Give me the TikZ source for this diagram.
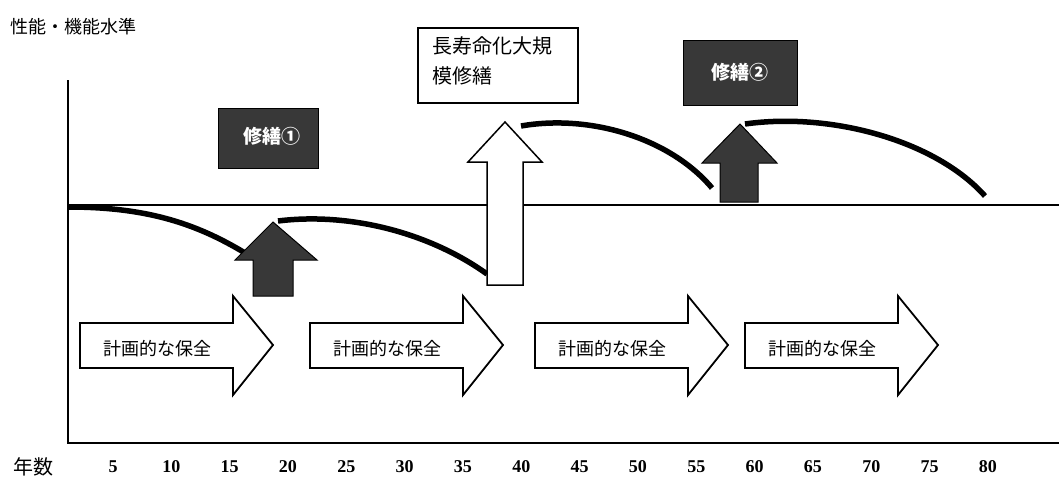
\documentclass[tikz,border=0pt]{standalone}
\usepackage{fontspec}
\setmainfont{Noto Sans CJK JP}
\newfontfamily\numfont{Liberation Serif}
\begin{document}
\begin{tikzpicture}[x=1pt,y=-1pt,
  axisline/.style={line width=1.6pt},
  arc/.style={line width=5.5pt},
  darkfill/.style={fill=black!78,draw=black,line width=1pt},
  whitearrow/.style={fill=white,draw=black,line width=1.5pt},
  blockarrow/.style={fill=white,draw=black,line width=1.8pt,line join=miter},
  lbl/.style={inner sep=0pt,font=\fontsize{18}{20}\selectfont},
  num/.style={inner sep=0pt,font=\numfont\fontsize{18}{20}\selectfont\bfseries},
  darklbl/.style={inner sep=0pt,text=white,font=\fontsize{19}{21}\selectfont\bfseries}]
\useasboundingbox (0,0) rectangle (1059,477);
% axes
\draw[axisline] (68,80) -- (68,443) -- (1059,443);
\draw[axisline] (68,205) -- (1059,205);
% labels
\node[lbl,anchor=west] (ylab) at (10,27) {性能・機能水準};
\node[lbl,font=\fontsize{20}{22}\selectfont] (xlab) at (33,467) {年数};
\foreach \i [count=\k from 0] in {5,10,...,80}{
  \node[num] (n\i) at ({113+\k*58.33},467) {\i};
}
% arcs
\draw[arc] (68,207) .. controls (150,207) and (200,225) .. (250,256);
\draw[arc] (278,221) .. controls (350,212) and (430,233) .. (487,274);
\draw[arc] (521,126) .. controls (590,114) and (670,138) .. (712,188);
\draw[arc] (745,124) .. controls (830,112) and (935,140) .. (985,196);
% dark arrow 1
\draw[darkfill] (253,296) -- (253,260) -- (235,260) -- (273,222) -- (317,260) -- (293,260) -- (293,296) -- cycle;
% dark arrow 2
\draw[darkfill] (720,202) -- (720,163) -- (702,163) -- (740,124) -- (777,163) -- (758,163) -- (758,202) -- cycle;
% white arrow
\draw[whitearrow] (487,285) -- (487,162) -- (468,162) -- (505,122) -- (542,162) -- (523,162) -- (523,285) -- cycle;
% boxes
\draw[darkfill] (218,108) rectangle (318,168);
\node[darklbl] (r1) at (272,136) {修繕①};
\draw[darkfill] (683,40) rectangle (797,105);
\node[darklbl] (r2) at (740,72) {修繕②};
\draw[line width=1.2pt,fill=white] (418,28) rectangle (578,103);
\node[inner sep=0pt,anchor=west,font=\fontsize{20}{22}\selectfont] (b1) at (432,46) {長寿命化大規};
\node[inner sep=0pt,anchor=west,font=\fontsize{20}{22}\selectfont] (b2) at (432,76) {模修繕};
% planned maintenance arrows
\foreach \x/\nm in {80/p1,310/p2,535/p3,745/p4}{
  \draw[blockarrow] (\x,323) -- ({\x+153},323) -- ({\x+153},296) -- ({\x+193},345) -- ({\x+153},395) -- ({\x+153},368) -- (\x,368) -- cycle;
  \node[lbl] (\nm) at ({\x+77},349) {計画的な保全};
}
\end{tikzpicture}
\end{document}
